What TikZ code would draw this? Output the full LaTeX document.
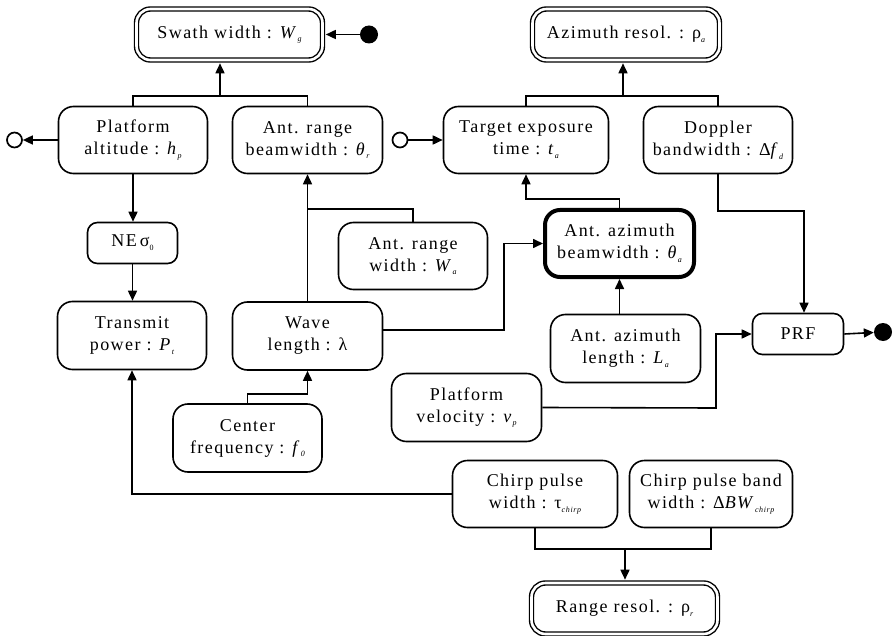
\documentclass[tikz,border=0pt]{standalone}
\usepackage{fontspec}
\setmainfont{Liberation Serif}[LetterSpace=8]
\usetikzlibrary{arrows.meta}
\newcommand\mysub[1]{\raisebox{-0.45ex}{\fontsize{8}{9}\selectfont\itshape #1}}
\newcommand\mysubup[1]{\raisebox{-0.45ex}{\fontsize{8}{9}\selectfont #1}}
\tikzset{
  box/.style={draw, line width=1.6pt, rounded corners=15pt, align=center, inner sep=0pt,
    font=\fontsize{18}{22}\selectfont},
  smallbox/.style={box, rounded corners=10pt},
  thickbox/.style={box, line width=4pt},
  dbox/.style={draw, double, double distance=2.6pt, line width=1.4pt, rounded corners=14pt,
    align=center, inner sep=0pt, font=\fontsize{18}{22}\selectfont},
  conn/.style={line width=1.6pt},
  arr/.style={conn, -{Triangle[length=10pt,width=9pt]}},
  opencirc/.style={circle, draw, line width=1.7pt, minimum size=15pt, inner sep=0pt},
  fillcirc/.style={circle, fill, minimum size=18pt, inner sep=0pt},
}
\begin{document}
\begin{tikzpicture}[x=1pt,y=-1pt]
\useasboundingbox (0,0) rectangle (893,636);
% double boxes
\node[dbox, minimum width=186pt, minimum height=51pt] (swath) at (229.5,34.5) {Swath width : \textit{W}\mysub{g}};
\node[dbox, minimum width=187pt, minimum height=51pt] (azr) at (626,34.5) {Azimuth resol. : ρ\mysub{a}};
\node[dbox, minimum width=186pt, minimum height=51pt] (rr) at (624.5,608.5) {Range resol. : ρ\mysub{r}};
% row 1
\node[box, minimum width=149pt, minimum height=67pt] (plat) at (133,140) {Platform\\altitude : \textit{h}\mysub{p}};
\node[box, minimum width=150pt, minimum height=67pt] (arb) at (307.5,140) {Ant. range\\beamwidth : \textit{θ}\mysub{r}};
\node[box, minimum width=165pt, minimum height=67pt] (target) at (526,140) {Target exposure\\time : \textit{t}\mysub{a}};
\node[box, minimum width=149pt, minimum height=67pt] (dop) at (718,140) {Doppler\\bandwidth : Δ\textit{f}\mysub{d}};
% row 2
\node[smallbox, minimum width=90pt, minimum height=41pt] (ne) at (132.5,243) {NE\,σ\mysubup{0}};
\node[box, minimum width=149pt, minimum height=67pt] (arw) at (413,256) {Ant. range\\width : \textit{W}\mysub{a}};
\node[thickbox, minimum width=149pt, minimum height=67pt] (aab) at (619.5,243.5) {Ant. azimuth\\beamwidth : \textit{θ}\mysub{a}};
% row 3
\node[box, minimum width=149pt, minimum height=68pt] (tp) at (132,335.5) {Transmit\\power : \textit{P}\mysub{t}};
\node[box, minimum width=150pt, minimum height=68pt] (wave) at (307.5,336) {Wave\\length : λ};
\node[box, minimum width=150pt, minimum height=68pt] (aal) at (625.5,348.5) {Ant. azimuth\\length : \textit{L}\mysub{a}};
\node[smallbox, minimum width=91pt, minimum height=41pt] (prf) at (798,334) {PRF};
% row 4
\node[box, minimum width=150pt, minimum height=68pt] (pv) at (466.5,407.5) {Platform\\velocity : \textit{v}\mysub{p}};
\node[box, minimum width=149pt, minimum height=68pt] (cf) at (247.5,438) {Center\\frequency : \textit{f}\mysub{0}};
\node[box, minimum width=165pt, minimum height=67pt] (cpw) at (535,494) {Chirp pulse\\width : τ\mysub{chirp}};
\node[box, minimum width=163pt, minimum height=67pt] (cpb) at (711,494) {Chirp pulse band\\width : Δ\textit{BW}\mysub{chirp}};
% terminals
\node[opencirc] (oc1) at (14.5,140) {};
\node[opencirc] (oc2) at (400,140) {};
\node[fillcirc] (fc1) at (369,34.5) {};
\node[fillcirc] (fc2) at (883,332) {};
% junction coordinates
\coordinate (b1) at (220,96);
\coordinate (b2) at (623,96);
\coordinate (j1) at (307.5,209);
\coordinate (j2) at (526,199);
\coordinate (j3) at (804,211);
\coordinate (j4) at (716,408);
\coordinate (j5) at (307.5,394);
\coordinate (j6) at (625,549);
\coordinate (j7) at (504,330);
% connectors
\draw[conn] (plat.north) |- (b1) -| (arb.north);
\draw[arr, shorten >=2.6pt] (b1) -- (b1 |- swath.south);
\draw[conn] (target.north) |- (b2) -| (dop.north);
\draw[arr, shorten >=2.6pt] (b2) -- (b2 |- azr.south);
\draw[arr, shorten >=2.6pt] (fc1) -- (fc1 -| swath.east);
\draw[arr] (plat.west) -- (oc1);
\draw[arr] (oc2) -- (target.west);
\draw[arr] (plat.south) -- (plat.south |- ne.north);
\draw[arr] (ne.south) -- (ne.south |- tp.north);
\draw[arr] (wave.north) -- (arb.south);
\draw[conn] (arw.north) |- (j1);
\draw[arr] (wave.east |- j7) -- (j7) |- (aab.west);
\draw[arr] (aab.north) |- (j2) -- (target.south);
\draw[arr] (aab.south |- aal.north) -- (aab.south);
\draw[arr] (dop.south) |- (j3) -- (j3 |- prf.north);
\draw[arr] (prf.east) -- (fc2);
\draw[arr] (pv.east) -- (j4) |- (prf.west);
\draw[arr] (cf.north) |- (j5) -- (wave.south);
\draw[arr] (cpw.west) -| (tp.south);
\draw[conn] (cpw.south) |- (j6) -| (cpb.south);
\draw[arr, shorten >=2.6pt] (j6) -- (j6 |- rr.north);
\end{tikzpicture}
\end{document}
